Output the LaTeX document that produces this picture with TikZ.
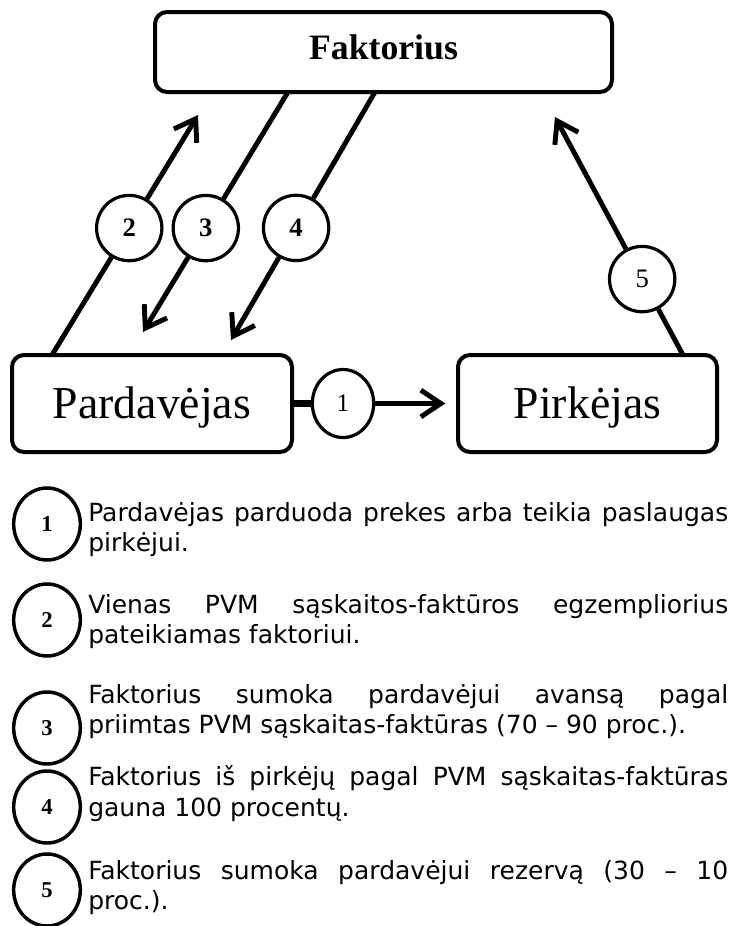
\documentclass[tikz,border=0pt]{standalone}
\usepackage{fontspec}
\usetikzlibrary{arrows.meta,shapes.geometric,calc}
\newfontfamily\tnr{Liberation Serif}
\newfontfamily\vsans{DejaVu Sans}
\begin{document}
\begin{tikzpicture}[x=0.75pt,y=-0.75pt,
  box/.style={draw, line width=3pt, rounded corners=9pt, inner sep=0pt},
  conn/.style={line width=3.7pt},
  tipend/.style={-{Straight Barb[length=15pt,width=20pt]}},
  num/.style={draw, circle, line width=2.4pt, minimum size=49pt, inner sep=0pt, font=\tnr\bfseries\fontsize{20}{20}\selectfont},
  numr/.style={num, font=\tnr\fontsize{20}{20}\selectfont},
  lnum/.style={draw, ellipse, line width=2.6pt, minimum width=50pt, minimum height=54pt, inner sep=0pt, font=\tnr\bfseries\fontsize{17}{17}\selectfont},
  ltext/.style={anchor=base west, inner sep=0pt, font=\vsans\fontsize{18.75}{22}\selectfont}
]
\useasboundingbox (0,0) rectangle (730,926);

% main boxes
\node[box, minimum width=342.75pt, minimum height=60pt, text height=18pt, text depth=7.5pt,
      font=\tnr\bfseries\fontsize{26.8}{30}\selectfont] (fakt) at (383.5,52) {Faktorius};
\node[box, minimum width=210pt, minimum height=72.75pt, text height=22.5pt, text depth=0pt,
      font=\tnr\fontsize{34.3}{38}\selectfont] (pard) at (152,403.5) {Pardavėjas};
\node[box, minimum width=194.25pt, minimum height=72.75pt, text height=22.5pt, text depth=0pt,
      font=\tnr\fontsize{34.3}{38}\selectfont] (pirk) at (587.5,403.5) {Pirkėjas};

% flow 1
\node[draw, ellipse, line width=2.4pt, minimum width=46pt, minimum height=51pt, inner sep=0pt,
      font=\tnr\fontsize{19}{19}\selectfont] (c1) at (343,403.5) {1};
\draw[line width=4.6pt] (pard) -- (c1);
\draw[conn, tipend, shorten >=8pt] (c1) -- (pirk);

% flow 2
\coordinate (s2) at (52,355);
\coordinate (e2) at (198,115);
\node[num] (c2) at ($(s2)!0.529!(e2)$) {2};
\draw[conn] (s2) -- (c2);
\draw[conn, tipend] (c2) -- (e2);

% flow 3
\coordinate (s3) at (288,92);
\coordinate (e3) at (143,332);
\node[num] (c3) at ($(s3)!0.567!(e3)$) {3};
\draw[conn] (s3) -- (c3);
\draw[conn, tipend] (c3) -- (e3);

% flow 4
\coordinate (s4) at (375,92);
\coordinate (e4) at (231,340);
\node[num] (c4) at ($(s4)!0.548!(e4)$) {4};
\draw[conn] (s4) -- (c4);
\draw[conn, tipend] (c4) -- (e4);

% flow 5
\coordinate (s5) at (683,355);
\coordinate (e5) at (555,117);
\node[numr] (c5) at ($(s5)!0.319!(e5)$) {5};
\draw[conn] (s5) -- (c5);
\draw[conn, tipend] (c5) -- (e5);

% legend
\node[lnum] (l1) at (47,524) {1};
\node[ltext] (t1a) at (88,521) {\makebox[480pt][s]{Pardavėjas parduoda prekes arba teikia paslaugas}};
\node[ltext] (t1b) at (88,551) {pirkėjui.};

\node[lnum] (l2) at (47,620) {2};
\node[ltext] (t2a) at (88,613) {\makebox[480pt][s]{Vienas PVM sąskaitos-faktūros egzempliorius}};
\node[ltext] (t2b) at (88,643) {pateikiamas faktoriui.};

\node[lnum] (l3) at (47,728) {3};
\node[ltext] (t3a) at (88,703) {\makebox[480pt][s]{Faktorius sumoka pardavėjui avansą pagal}};
\node[ltext] (t3b) at (88,733) {priimtas PVM sąskaitas-faktūras (70 – 90 proc.).};

\node[lnum] (l4) at (47,807) {4};
\node[ltext] (t4a) at (88,785) {\makebox[480pt][s]{Faktorius iš pirkėjų pagal PVM sąskaitas-faktūras}};
\node[ltext] (t4b) at (88,816) {gauna 100 procentų.};

\node[lnum] (l5) at (47,890) {5};
\node[ltext] (t5a) at (88,879) {\makebox[480pt][s]{Faktorius sumoka pardavėjui rezervą (30 – 10}};
\node[ltext] (t5b) at (88,909) {proc.).};
\end{tikzpicture}
\end{document}
